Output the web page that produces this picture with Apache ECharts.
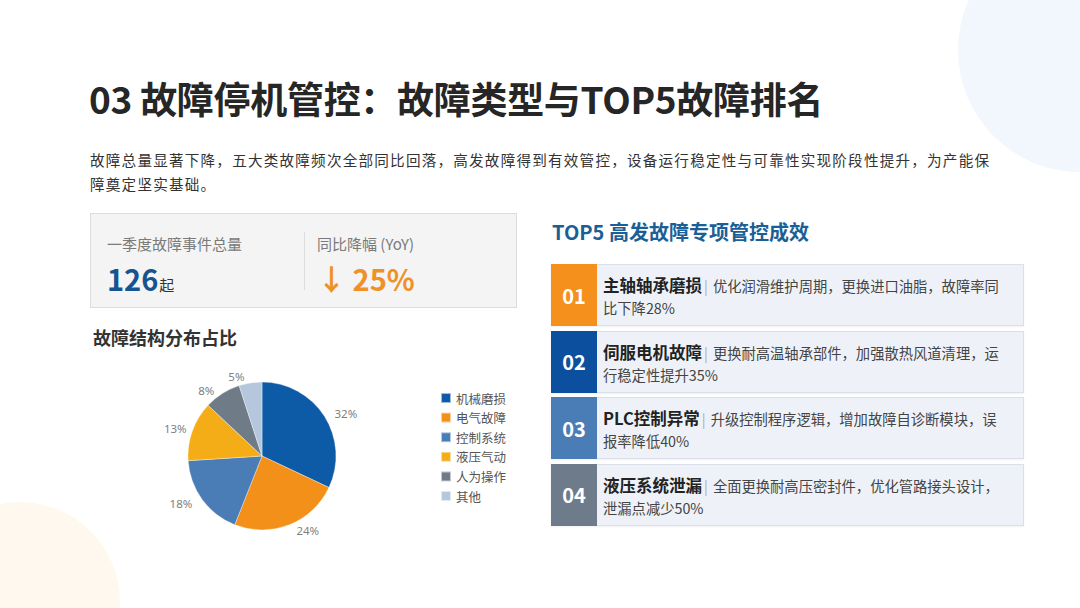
<!DOCTYPE html>
<html lang="zh">
<head>
<meta charset="utf-8">
<title>故障停机管控</title>
<script src="https://cdn.jsdelivr.net/npm/echarts@6/dist/echarts.min.js"></script>
<style>
  html,body{margin:0;padding:0;background:#fff;}
  body{width:1080px;height:608px;position:relative;overflow:hidden;
       font-family:"Noto Sans CJK SC","Noto Sans",sans-serif;color:#333;}
  .blob{position:absolute;border-radius:50%;}
  .blob.tr{left:958px;top:-72px;width:244px;height:244px;background:#f2f7fd;}
  .blob.bl{left:-80px;top:502px;width:200px;height:200px;background:#fff8ee;}
  h1{position:absolute;left:89px;top:71px;margin:0;font-size:37px;font-weight:700;color:#262626;letter-spacing:-0.3px;}
  .lead{position:absolute;left:90px;top:148px;margin:0;font-size:14.6px;line-height:24px;color:#333;letter-spacing:1.2px;}
  .kpi{position:absolute;left:90px;top:213px;width:427px;height:95px;background:#f4f4f4;border:1px solid #dcdcdc;box-sizing:border-box;}
  .kpi .cell{position:absolute;top:19px;}
  .kpi .lbl{font-size:15px;color:#7a7a7a;}
  .kpi .big{font-size:29px;font-weight:700;line-height:36px;margin-top:6px;}
  .kpi .unit{font-size:15px;font-weight:400;color:#333;margin-left:1px;}
  .kpi .sep{position:absolute;left:213px;top:18px;width:1px;height:58px;background:#dcdcdc;}
  #pie{position:absolute;left:80px;top:322px;width:460px;height:240px;}
  h2{position:absolute;left:552px;top:217px;margin:0;font-size:20px;font-weight:700;color:#1b5f97;}
  .rows{position:absolute;left:551px;top:264px;width:473px;}
  .row{position:relative;height:62px;margin-bottom:4.5px;background:#eef2f8;border:1px solid #d9e0ea;box-sizing:border-box;box-shadow:0 1px 2px rgba(0,0,0,.06);}
  .row .no{position:absolute;left:-1px;top:-1px;width:46px;height:62px;color:#fff;font-size:20px;font-weight:700;
           display:flex;align-items:center;justify-content:center;}
  .row .txt{position:absolute;left:51px;top:9px;right:4px;font-size:14.3px;line-height:22px;color:#444;white-space:nowrap;}
  .row .txt b{font-size:16.5px;color:#222;}
  .row .txt i{font-style:normal;color:#aaa;margin:0 5px 0 2px;}
</style>
</head>
<body>
<div class="blob tr"></div>
<div class="blob bl"></div>

<h1>03 故障停机管控：故障类型与TOP5故障排名</h1>
<p class="lead">故障总量显著下降，五大类故障频次全部同比回落，高发故障得到有效管控，设备运行稳定性与可靠性实现阶段性提升，为产能保<br>障奠定坚实基础。</p>

<div class="kpi">
  <div class="cell" style="left:16px">
    <div class="lbl" id="kpi1Label"></div>
    <div class="big" style="color:#16538f"><span id="kpi1Value"></span><span class="unit" id="kpi1Unit"></span></div>
  </div>
  <div class="sep"></div>
  <div class="cell" style="left:226px">
    <div class="lbl" id="kpi2Label"></div>
    <div class="big" style="color:#ef9225" id="kpi2Value"></div>
  </div>
</div>

<div id="pie"></div>

<h2>TOP5 高发故障专项管控成效</h2>
<div class="rows" id="rows"></div>

<script>
// pie: share of faults by type (%)
var categories = ['机械磨损','电气故障','控制系统','液压气动','人为操作','其他'];
var shares     = [32, 24, 18, 13, 8, 5];

// headline figures
var kpiLabels = ['一季度故障事件总量', '同比降幅 (YoY)'];
var kpiValues = ['126', '↓ 25%'];
var kpiUnit   = '起';

// top faults list (note text split where the slide wraps it)
var rankNos    = ['01','02','03','04'];
var rankTitles = ['主轴轴承磨损','伺服电机故障','PLC控制异常','液压系统泄漏'];
var rankNotesA = ['优化润滑维护周期，更换进口油脂，故障率同','更换耐高温轴承部件，加强散热风道清理，运','升级控制程序逻辑，增加故障自诊断模块，误','全面更换耐高压密封件，优化管路接头设计，'];
var rankNotesB = ['比下降28%','行稳定性提升35%','报率降低40%','泄漏点减少50%'];

var PIE_COLORS  = ['#0d5aa7','#f39019','#4a7db6','#f5ad17','#6f7c88','#b5c7dd'];
var RANK_COLORS = ['#f5901c','#0d4f9f','#4a7db5','#6e7b8a'];

document.getElementById('kpi1Label').textContent = kpiLabels[0];
document.getElementById('kpi1Value').textContent = kpiValues[0];
document.getElementById('kpi1Unit').textContent  = kpiUnit;
document.getElementById('kpi2Label').textContent = kpiLabels[1];
document.getElementById('kpi2Value').textContent = kpiValues[1];

var rowsEl = document.getElementById('rows');
rankNos.forEach(function(no, i){
  var r = document.createElement('div');
  r.className = 'row';
  r.innerHTML = '<div class="no" style="background:'+RANK_COLORS[i]+'">'+no+'</div>'+
    '<div class="txt"><b>'+rankTitles[i]+'</b><i>|</i>'+rankNotesA[i]+'<br>'+rankNotesB[i]+'</div>';
  rowsEl.appendChild(r);
});

(function(){
  var chart = echarts.init(document.getElementById('pie'), null, {renderer:'svg'});
  chart.setOption({
    animation:false,
    color:PIE_COLORS,
    title:{ text:'故障结构分布占比', left:13, top:6, padding:0,
      textStyle:{ fontFamily:'Noto Sans CJK SC', fontSize:18, fontWeight:600, color:'#333' } },
    legend:{
      orient:'vertical', left:360, top:69, padding:0, itemGap:5.6,
      itemWidth:10, itemHeight:10, icon:'rect',
      textStyle:{ fontFamily:'Noto Sans CJK SC', fontSize:12.5, color:'#555', lineHeight:14 },
      data:categories
    },
    series:[{
      type:'pie', center:[182,134], radius:74, startAngle:90, clockwise:true,
      itemStyle:{ borderColor:'rgba(255,255,255,0.6)', borderWidth:0.6 },
      label:{ show:true, position:'outside', formatter:'{c}%', color:'#808080',
        fontFamily:'Noto Sans', fontSize:11.5 },
      labelLine:{ show:false, length:6, length2:0 },
      data:categories.map(function(c,i){ return {name:c, value:shares[i]}; })
    }]
  });
})();
</script>
</body>
</html>
